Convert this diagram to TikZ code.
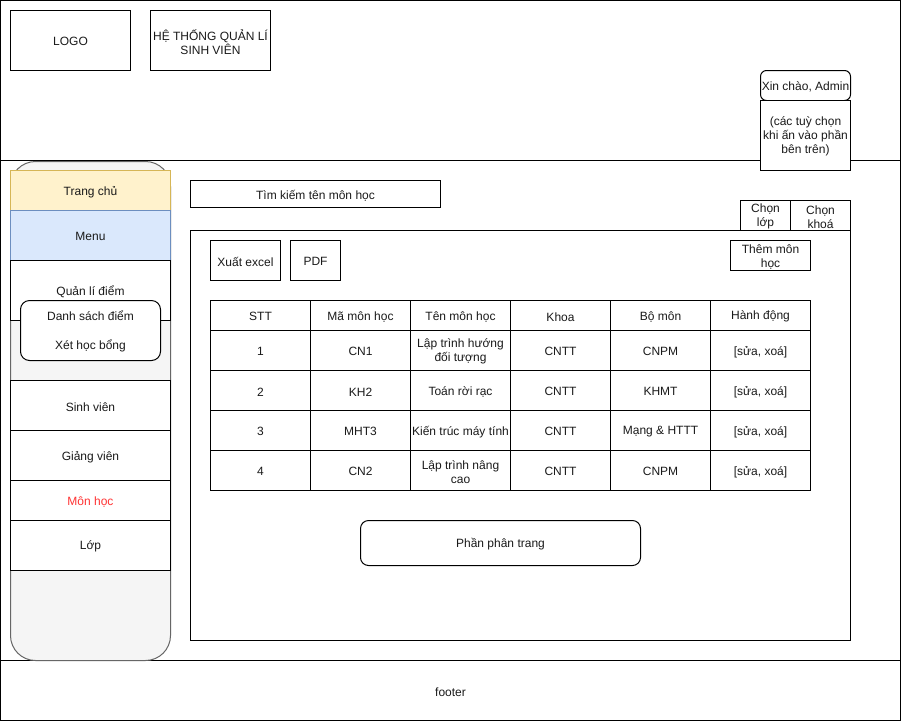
\documentclass[tikz,border=0pt]{standalone}
\usepackage{fontspec}
\setmainfont{Liberation Sans}
\definecolor{sidefill}{HTML}{F5F5F5}
\definecolor{sidedraw}{HTML}{666666}
\definecolor{yfill}{HTML}{FFF2CC}
\definecolor{ydraw}{HTML}{D6B656}
\definecolor{bfill}{HTML}{DAE8FC}
\definecolor{bdraw}{HTML}{6C8EBF}
\definecolor{redtext}{HTML}{FF3333}
\definecolor{txt}{HTML}{1A1A1A}
\newcommand{\bx}[7][]{%
  \pgfmathsetmacro{\cxx}{(#3+#5)/2}\pgfmathsetmacro{\cyy}{(#4+#6)/2}%
  \pgfmathsetmacro{\ww}{#5-#3}\pgfmathsetmacro{\hh}{#6-#4}%
  \node[wbox,#1,minimum width=\ww pt,minimum height=\hh pt,
    label={[lbl,#1,draw=none,fill=none,name=#2-t]center:#7}] (#2) at (\cxx,\cyy) {};}
\begin{document}
\begin{tikzpicture}[x=1pt,y=-1pt,line width=1pt,
  every node/.style={font=\fontsize{12}{14}\selectfont,text=txt,align=center,inner sep=0pt,outer sep=0pt},
  lbl/.style={yshift=-1.3pt},
  wbox/.style={draw=black,fill=white,rectangle},
  rbox/.style={rounded corners=6pt},
  side/.style={fill=sidefill,draw=sidedraw,rounded corners=25pt},
  yel/.style={fill=yfill,draw=ydraw},
  blu/.style={fill=bfill,draw=bdraw}]
\useasboundingbox (-0.5,-0.5) rectangle (900.5,720.5);
% frame regions
\bx{header}{0}{0}{900}{160}{}
\bx{body}{0}{160}{900}{660}{}
\bx{footer}{0}{660}{900}{720}{footer}
% header
\bx{logo}{10}{10}{130}{70}{LOGO}
\bx{title}{150}{10}{270}{70}{HỆ THỐNG QUẢN LÍ\\SINH VIÊN}
\bx[rbox]{hello}{760}{70}{850}{100}{Xin chào, Admin}
\bx{opts}{760}{100}{850}{170}{(các tuỳ chọn\\khi ấn vào phần\\bên trên)}
% sidebar
\bx[side]{sidebar}{10}{161}{170}{660}{}
\bx[yel]{home}{10}{170}{170}{210}{Trang chủ}
\bx[blu]{menu}{10}{210}{170}{260}{Menu}
\bx{grade}{10}{260}{170}{320}{Quản lí điểm}
\bx[rounded corners=9pt]{gradesub}{20}{300}{160}{360}{Danh sách điểm\\[15pt]Xét học bổng}
\bx{student}{10}{380}{170}{430}{Sinh viên}
\bx{lecturer}{10}{430}{170}{480}{Giảng viên}
\bx[text=redtext]{subject}{10}{480}{170}{520}{Môn học}
\bx{class}{10}{520}{170}{570}{Lớp}
% content
\bx{search}{190}{180}{440}{207}{Tìm kiếm tên môn học}
\bx{pickclass}{740}{200}{790}{230}{Chọn\\lớp}
\bx{pickcourse}{790}{200}{850}{230}{Chọn\\khoá}
\bx{main}{190}{230}{850}{640}{}
\bx{excel}{210}{240}{280}{280}{Xuất excel}
\bx{pdf}{290}{240}{340}{280}{PDF}
\bx{add}{730}{240}{810}{270}{Thêm môn\\học}
% table
\bx{h1}{210}{300}{310}{330}{STT}
\bx{h2}{310}{300}{410}{330}{Mã môn học}
\bx{h3}{410}{300}{510}{330}{Tên môn học}
\bx{h4}{510}{300}{610}{330}{Khoa}
\bx{h5}{610}{300}{710}{330}{Bộ môn}
\bx{h6}{710}{300}{810}{330}{Hành động}
\bx{a1}{210}{330}{310}{370}{1}
\bx{a2}{310}{330}{410}{370}{CN1}
\bx{a3}{410}{330}{510}{370}{Lập trình hướng\\đối tượng}
\bx{a4}{510}{330}{610}{370}{CNTT}
\bx{a5}{610}{330}{710}{370}{CNPM}
\bx{a6}{710}{330}{810}{370}{[sửa, xoá]}
\bx{b1}{210}{370}{310}{410}{2}
\bx{b2}{310}{370}{410}{410}{KH2}
\bx{b3}{410}{370}{510}{410}{Toán rời rạc}
\bx{b4}{510}{370}{610}{410}{CNTT}
\bx{b5}{610}{370}{710}{410}{KHMT}
\bx{b6}{710}{370}{810}{410}{[sửa, xoá]}
\bx{c1}{210}{410}{310}{450}{3}
\bx{c2}{310}{410}{410}{450}{MHT3}
\bx{c3}{410}{410}{510}{450}{Kiến trúc máy tính}
\bx{c4}{510}{410}{610}{450}{CNTT}
\bx{c5}{610}{410}{710}{450}{Mạng \& HTTT}
\bx{c6}{710}{410}{810}{450}{[sửa, xoá]}
\bx{d1}{210}{450}{310}{490}{4}
\bx{d2}{310}{450}{410}{490}{CN2}
\bx{d3}{410}{450}{510}{490}{Lập trình nâng\\cao}
\bx{d4}{510}{450}{610}{490}{CNTT}
\bx{d5}{610}{450}{710}{490}{CNPM}
\bx{d6}{710}{450}{810}{490}{[sửa, xoá]}
\bx[rounded corners=8pt]{paging}{360}{520}{640}{565}{Phần phân trang}
\end{tikzpicture}
\end{document}
